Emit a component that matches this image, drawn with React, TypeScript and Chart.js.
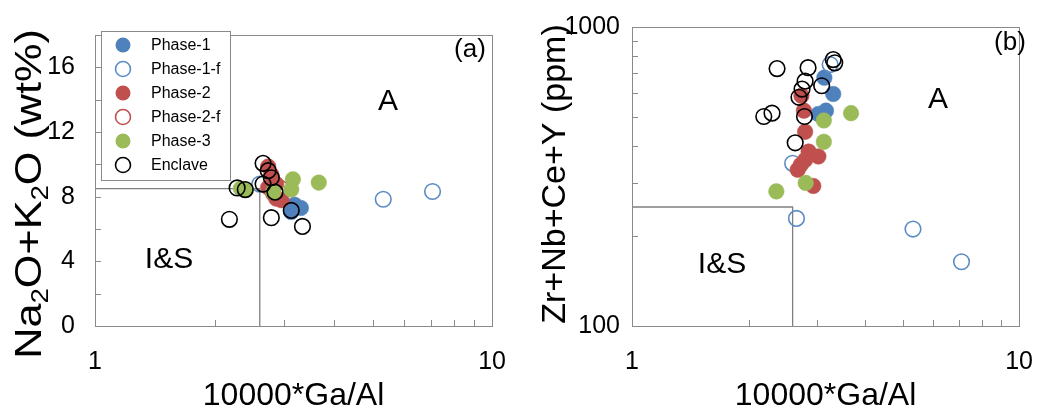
import React, { useEffect, useRef } from "react";
import { Chart, registerables } from "chart.js";
Chart.register(...registerables);

// ---------- data ----------
const seriesNames = ["Phase-1", "Phase-1-f", "Phase-2", "Phase-2-f", "Phase-3", "Enclave"];

// Panel (a): [10000*Ga/Al, Na2O+K2O wt%]
const phase1A: number[][] = [[3.12, 7.05], [3.30, 7.3], [3.18, 7.5]];
const phase1fA: number[][] = [[2.60, 8.78], [5.32, 7.84], [7.08, 8.32]];
const phase2A: number[][] = [[2.73, 9.86], [2.78, 9.37], [2.73, 8.57], [2.86, 8.78], [2.81, 8.18], [2.86, 7.88], [2.95, 7.78]];
const phase2fA: number[][] = [[2.93, 8.52]];
const phase3A: number[][] = [[3.15, 9.07], [3.66, 8.87], [3.12, 8.45], [2.81, 8.28], [2.33, 8.5], [2.40, 8.42]];
const enclaveA: number[][] = [[2.65, 10.06], [2.73, 9.61], [2.78, 9.17], [2.65, 8.78], [2.84, 8.28], [2.28, 8.54], [2.39, 8.44], [2.18, 6.6], [2.78, 6.7], [3.12, 7.15], [3.33, 6.16]];

// Panel (b): [10000*Ga/Al, Zr+Nb+Ce+Y ppm]
const phase1B: number[][] = [[3.14, 677], [3.31, 597], [3.17, 525], [3.03, 512]];
const phase1fB: number[][] = [[2.66, 229], [5.32, 211], [7.1, 164], [2.6, 350], [3.25, 749]];
const phase2B: number[][] = [[2.74, 589], [2.78, 525], [2.80, 446], [2.86, 383], [3.03, 369], [2.80, 359], [2.73, 346], [2.68, 333], [2.94, 294]];
const phase2fB: number[][] = [];
const phase3B: number[][] = [[3.68, 515], [3.13, 487], [3.13, 413], [2.81, 301], [2.36, 282]];
const enclaveB: number[][] = [[2.37, 726], [2.85, 731], [3.31, 778], [3.34, 759], [2.80, 659], [2.75, 620], [2.70, 582], [3.09, 636], [2.19, 502], [2.30, 515], [2.64, 410], [2.79, 502]];

// boundaries (Whalen et al.)
const gaAlLimit = 2.6;
const alkaliLimit = 8.5;
const hfseLimit = 250;

// axes
const xRange = [1, 10];
const xTickLabels = [1, 10];
const xMinorTicks = [2, 3, 4, 5, 6, 7, 8, 9];
const yRangeA = [0, 18];
const yTickLabelsA = [0, 4, 8, 12, 16];
const yMinorTicksA = [2, 4, 6, 8, 10, 12, 14, 16];
const yRangeB = [100, 1000];
const yTickLabelsB = [100, 1000];
const yMinorTicksB = [200, 300, 400, 500, 600, 700, 800, 900];

// ---------- styles ----------
const BLUE = "#4F81BD";
const RED = "#C0504D";
const GREEN = "#9BBB59";
const BLACK = "#000000";
const styles = [
  { color: BLUE, filled: true },
  { color: "#5B8CC4", filled: false },
  { color: RED, filled: true },
  { color: RED, filled: false },
  { color: GREEN, filled: true },
  { color: BLACK, filled: false },
];
const FONT = '"Liberation Sans", Arial, Helvetica, sans-serif';
const W = 527;
const H = 408;

type Part = { t: string; sub?: boolean };

function drawRotatedRich(ctx: CanvasRenderingContext2D, parts: Part[], cx: number, cy: number, size: number, stretch: number) {
  ctx.save();
  ctx.translate(cx, cy);
  ctx.rotate(-Math.PI / 2);
  ctx.scale(stretch, 1);
  const f = (p: Part) => `${p.sub ? Math.round(size * 0.65) : size}px ${FONT}`;
  let total = 0;
  for (const p of parts) {
    ctx.font = f(p);
    total += ctx.measureText(p.t).width;
  }
  let xx = -total / 2;
  ctx.fillStyle = "#000";
  ctx.textBaseline = "alphabetic";
  ctx.textAlign = "left";
  for (const p of parts) {
    ctx.font = f(p);
    ctx.fillText(p.t, xx, size * 0.36 + (p.sub ? size * 0.2 : 0));
    xx += ctx.measureText(p.t).width;
  }
  ctx.restore();
}

function makeDecor(opts: {
  yMinor: number[];
  yTitle: Part[];
  yTitlePos: [number, number];
  yTitleSize: number;
  yTitleStretch: number;
  texts: { t: string; x: number; y: number; size: number }[];
  legend: boolean;
}) {
  return {
    id: "decor",
    afterDraw(chart: any) {
      const ctx: CanvasRenderingContext2D = chart.ctx;
      const ca = chart.chartArea;
      const xs = chart.scales.x;
      const ys = chart.scales.y;
      ctx.save();
      // frame
      ctx.strokeStyle = "#8a8a8a";
      ctx.lineWidth = 1;
      ctx.strokeRect(Math.round(ca.left) + 0.5, Math.round(ca.top) + 0.5, Math.round(ca.right - ca.left), Math.round(ca.bottom - ca.top));
      // inward minor ticks
      ctx.beginPath();
      for (const v of xMinorTicks) {
        const px = Math.round(xs.getPixelForValue(v)) + 0.5;
        ctx.moveTo(px, ca.bottom);
        ctx.lineTo(px, ca.bottom - 6);
      }
      for (const v of opts.yMinor) {
        const py = Math.round(ys.getPixelForValue(v)) + 0.5;
        ctx.moveTo(ca.left, py);
        ctx.lineTo(ca.left + 6, py);
      }
      ctx.stroke();
      // x title
      ctx.fillStyle = "#000";
      ctx.font = `32px ${FONT}`;
      ctx.textAlign = "center";
      ctx.textBaseline = "middle";
      ctx.fillText("10000*Ga/Al", (ca.left + ca.right) / 2, 396);
      // y title
      drawRotatedRich(ctx, opts.yTitle, opts.yTitlePos[0], opts.yTitlePos[1], opts.yTitleSize, opts.yTitleStretch);
      // in-plot texts
      for (const t of opts.texts) {
        ctx.font = `${t.size}px ${FONT}`;
        ctx.fillStyle = "#000";
        ctx.textAlign = "center";
        ctx.textBaseline = "middle";
        ctx.fillText(t.t, t.x, t.y);
      }
      // legend
      if (opts.legend) {
        const bx = 101, by = 31, bw = 129, bh = 149;
        ctx.fillStyle = "#fff";
        ctx.fillRect(bx, by, bw, bh);
        ctx.strokeStyle = "#8a8a8a";
        ctx.lineWidth = 1;
        ctx.strokeRect(bx + 0.5, by + 0.5, bw, bh);
        seriesNames.forEach((name, i) => {
          const yy = 45 + i * 24;
          const st = styles[i];
          ctx.beginPath();
          ctx.arc(123, yy, 7.5, 0, Math.PI * 2);
          if (st.filled) {
            ctx.fillStyle = st.color;
            ctx.fill();
          } else {
            ctx.strokeStyle = st.color;
            ctx.lineWidth = 1.6;
            ctx.stroke();
          }
          ctx.fillStyle = "#000";
          ctx.font = `16px ${FONT}`;
          ctx.textAlign = "left";
          ctx.textBaseline = "middle";
          ctx.fillText(name, 151, yy + 1);
        });
      }
      ctx.restore();
    },
  };
}

function buildDatasets(series: number[][][], boundary: number[][]) {
  const ds: any[] = series.map((pts, i) => {
    const st = styles[i];
    return {
      label: seriesNames[i],
      data: pts.map((p) => ({ x: p[0], y: p[1] })),
      showLine: false,
      pointRadius: 7.8,
      pointHoverRadius: 7.8,
      pointBackgroundColor: st.filled ? st.color : "rgba(0,0,0,0)",
      pointBorderColor: st.color,
      pointBorderWidth: st.filled ? 0.5 : 1.6,
      order: series.length - 1 - i,
    };
  });
  ds.push({
    label: "boundary",
    data: boundary.map((p) => ({ x: p[0], y: p[1] })),
    showLine: true,
    borderColor: "#7f7f7f",
    borderWidth: 1.3,
    pointRadius: 0,
    fill: false,
    order: 99,
  });
  return ds;
}

function makeConfig(
  datasets: any[],
  yType: string,
  yRange: number[],
  yTicks: number[],
  padding: any,
  yTickPad: number,
  decor: any
) {
  return {
    type: "scatter",
    data: { datasets },
    options: {
      animation: false,
      responsive: false,
      devicePixelRatio: 1,
      events: [],
      layout: { padding },
      plugins: { legend: { display: false }, tooltip: { enabled: false } },
      scales: {
        x: {
          type: "logarithmic",
          min: xRange[0],
          max: xRange[1],
          grid: { display: false, drawTicks: false, tickLength: 0 },
          border: { display: false },
          afterBuildTicks: (s: any) => {
            s.ticks = xTickLabels.map((v) => ({ value: v }));
          },
          afterFit: (s: any) => {
            s.height = 82;
          },
          ticks: {
            padding: 21,
            color: "#000",
            font: { family: FONT, size: 25 },
            maxRotation: 0,
            autoSkip: false,
            callback: (v: any) => String(v),
          },
        },
        y: {
          type: yType,
          min: yRange[0],
          max: yRange[1],
          grid: { display: false, drawTicks: false, tickLength: 0 },
          border: { display: false },
          afterBuildTicks: (s: any) => {
            s.ticks = yTicks.map((v) => ({ value: v }));
          },
          afterFit: (s: any) => {
            s.width = 95 + (padding.extraLeft || 0);
          },
          ticks: {
            padding: yTickPad,
            color: "#000",
            font: { family: FONT, size: 25 },
            autoSkip: false,
            callback: (v: any) => String(v),
          },
        },
      },
    },
    plugins: [decor],
  };
}

export default function App() {
  const refA = useRef<HTMLCanvasElement>(null);
  const refB = useRef<HTMLCanvasElement>(null);

  useEffect(() => {
    document.body.style.margin = "0";
    const decorA = makeDecor({
      yMinor: yMinorTicksA,
      yTitle: [{ t: "Na" }, { t: "2", sub: true }, { t: "O+K" }, { t: "2", sub: true }, { t: "O (wt%)" }],
      yTitlePos: [28, 194],
      yTitleSize: 36,
      yTitleStretch: 1.2,
      texts: [
        { t: "A", x: 388, y: 102, size: 30 },
        { t: "I&S", x: 169, y: 260, size: 30 },
        { t: "(a)", x: 470, y: 50, size: 26 },
      ],
      legend: true,
    });
    const decorB = makeDecor({
      yMinor: yMinorTicksB,
      yTitle: [{ t: "Zr+Nb+Ce+Y (ppm)" }],
      yTitlePos: [26, 174],
      yTitleSize: 34,
      yTitleStretch: 1.0,
      texts: [
        { t: "A", x: 411, y: 100, size: 30 },
        { t: "I&S", x: 195, y: 265, size: 30 },
        { t: "(b)", x: 483, y: 43, size: 26 },
      ],
      legend: false,
    });

    const dsA = buildDatasets(
      [phase1A, phase1fA, phase2A, phase2fA, phase3A, enclaveA],
      [[xRange[0], alkaliLimit], [gaAlLimit, alkaliLimit], [gaAlLimit, yRangeA[0]]]
    );
    const dsB = buildDatasets(
      [phase1B, phase1fB, phase2B, phase2fB, phase3B, enclaveB],
      [[xRange[0], hfseLimit], [gaAlLimit, hfseLimit], [gaAlLimit, yRangeB[0]]]
    );

    const chartA = new Chart(
      refA.current as HTMLCanvasElement,
      makeConfig(dsA, "linear", yRangeA, yTickLabelsA, { left: 0, top: 23, right: 27, bottom: 0 }, 20, decorA) as any
    );
    const chartB = new Chart(
      refB.current as HTMLCanvasElement,
      makeConfig(dsB, "logarithmic", yRangeB, yTickLabelsB, { left: 0, top: 22, right: 17, bottom: 0, extraLeft: 10 }, 12, decorB) as any
    );
    return () => {
      chartA.destroy();
      chartB.destroy();
    };
  }, []);

  return (
    <div style={{ position: "absolute", left: 0, top: 0, width: 1054, height: 408, background: "#fff" }}>
      <canvas ref={refA} width={W} height={H} style={{ position: "absolute", left: 0, top: 0, width: W, height: H }} />
      <canvas ref={refB} width={W} height={H} style={{ position: "absolute", left: W, top: 0, width: W, height: H }} />
    </div>
  );
}
